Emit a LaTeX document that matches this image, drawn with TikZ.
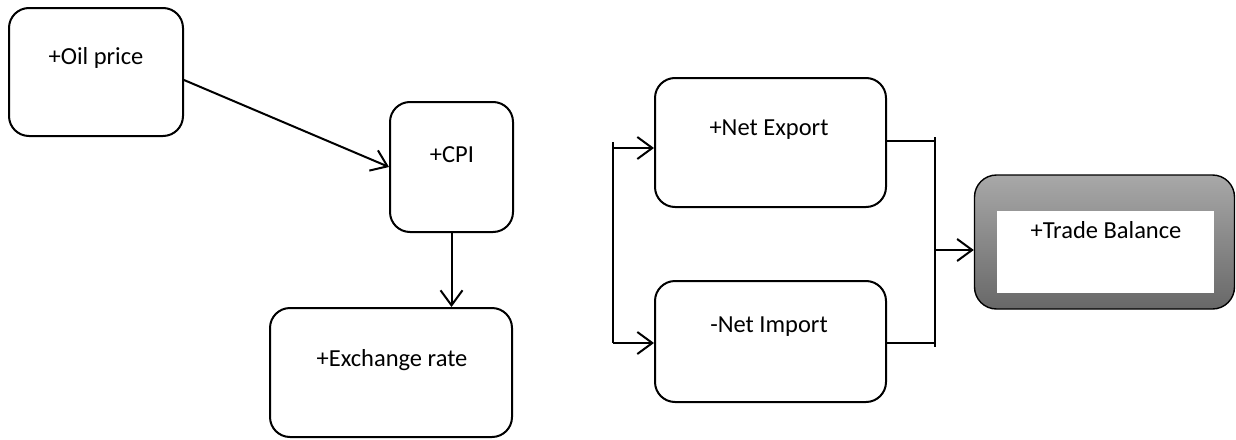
\documentclass[tikz,border=0pt]{standalone}
\usepackage{fontspec}
\setmainfont{Carlito}
\usetikzlibrary{arrows.meta,calc}
\begin{document}
\begin{tikzpicture}[x=1pt,y=-1pt,
  box/.style={draw=black,line width=2pt,rounded corners=20pt,fill=white,inner sep=0pt},
  lbl/.style={font=\fontsize{24.5}{28}\selectfont,inner sep=0pt,anchor=center},
  arr/.style={line width=2pt,-{Straight Barb[length=15pt,width=22pt,line width=2pt]}},
  ln/.style={line width=2pt}]
\useasboundingbox (0,0) rectangle (1236,439);
% boxes
\node[box,minimum width=174pt,minimum height=128pt] (oil) at (96,72) {};
\node[box,minimum width=123pt,minimum height=130pt] (cpi) at (451.5,167) {};
\node[box,minimum width=242pt,minimum height=129pt] (exch) at (391,372.5) {};
\node[box,minimum width=231pt,minimum height=129pt] (nexp) at (770.5,142.5) {};
\node[box,minimum width=231pt,minimum height=121pt] (nimp) at (770.5,341.5) {};
\node[draw=black,line width=1.4pt,rounded corners=22pt,inner sep=0pt,
  top color={rgb,255:red,168;green,168;blue,168},bottom color={rgb,255:red,104;green,104;blue,104},
  minimum width=260pt,minimum height=134pt] (trade) at (1104.5,242) {};
\node[fill=white,inner sep=0pt,minimum width=217pt,minimum height=82pt] (inner) at (1105.5,252) {};
% labels
\node[lbl] (toil) at (96,58) {+Oil price};
\node[lbl] (tcpi) at (452,155) {+CPI};
\node[lbl] (texch) at (392,360) {+Exchange rate};
\node[lbl] (tnexp) at (769,130) {+Net Export};
\node[lbl] (tnimp) at (769,327) {-Net Import};
\node[lbl] (ttrade) at (1106,230) {+Trade Balance};
% connectors
\draw[arr] ($(oil.east)+(0,8)$) -- (cpi.west);
\draw[arr] (cpi.south) -- (cpi.south |- exch.north);
% left bracket
\coordinate (lt) at (613,142);
\coordinate (la) at (613,148);
\coordinate (lb) at (613,343);
\draw[ln] (lt) -- (lb);
\draw[arr] (la) -- (la -| nexp.west);
\draw[arr] (lb) -- (lb -| nimp.west);
% right bracket
\coordinate (rt) at (935,137);
\coordinate (rb) at (935,347);
\coordinate (re) at (935,141);
\coordinate (ri) at (935,343);
\coordinate (rm) at (935,250);
\draw[ln] (rt) -- (rb);
\draw[ln] (re -| nexp.east) -- (re);
\draw[ln] (ri -| nimp.east) -- (ri);
\draw[arr] (rm) -- (rm -| trade.west);
\end{tikzpicture}
\end{document}
